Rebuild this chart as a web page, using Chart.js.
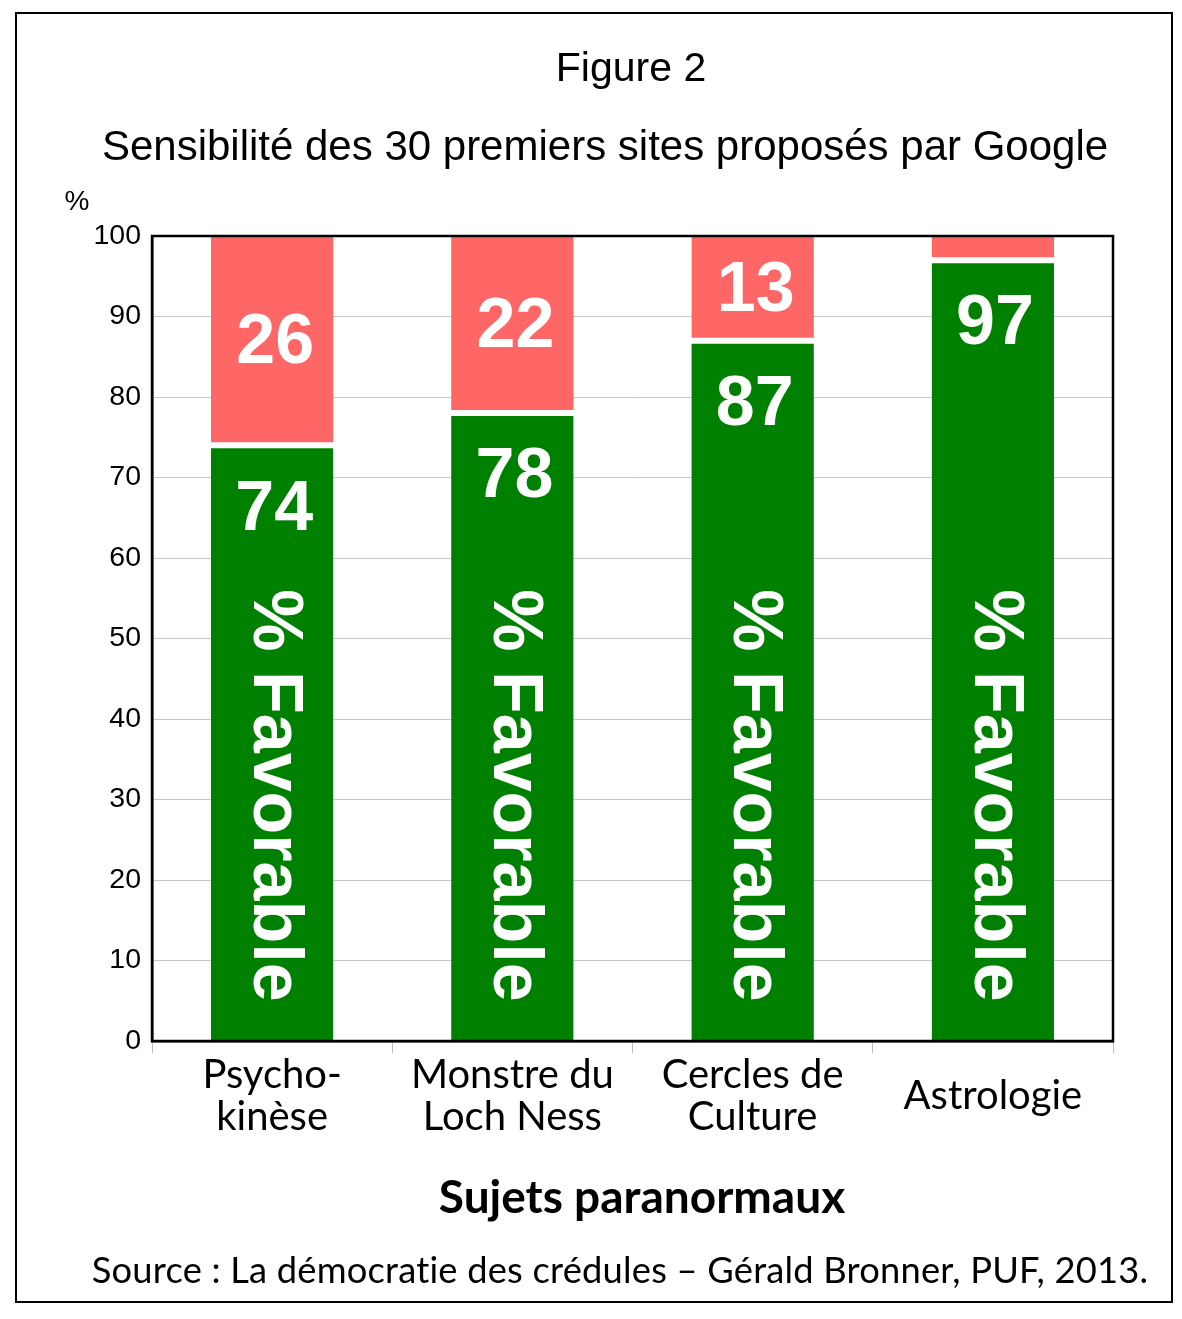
<!DOCTYPE html>
<html>
<head>
<meta charset="utf-8">
<script src="https://cdn.jsdelivr.net/npm/chart.js@4.4.1/dist/chart.umd.min.js"></script>
<style>
    body { margin: 0; background: #fff; }
    #wrap { position: relative; width: 1182px; height: 1319px; overflow: hidden; }
    #frame { position: absolute; left: 15px; top: 12px; width: 1154px; height: 1287px; border: 2px solid #000; }
    canvas { position: absolute; left: 0; top: 0; }
    .txt { position: absolute; white-space: nowrap; color: #000; transform: translateX(-50%); line-height: 1;
           font-variant-ligatures: none; font-feature-settings: "liga" 0, "clig" 0, "dlig" 0; }
    #fig { left: 631px; top: 44px; font: 41px "Liberation Sans", Arial, sans-serif; }
    #subtitle { left: 605px; top: 122px; font: 42px "Liberation Sans", Arial, sans-serif; }
    #unit { left: 77px; top: 185px; font: 28px "Liberation Sans", Arial, sans-serif; }
    #xtitle { left: 642px; top: 1168px; font: bold 46px Lato, "Open Sans", sans-serif; }
    #source { left: 620px; top: 1247px; font: 36.3px Lato, "Open Sans", sans-serif; letter-spacing: 0.2px; }
</style>
</head>
<body>
<div id="wrap">
    <div id="frame"></div>
    <canvas id="chart" width="1182" height="1319"></canvas>
    <div class="txt" id="fig">Figure 2</div>
    <div class="txt" id="subtitle">Sensibilité des 30 premiers sites proposés par Google</div>
    <div class="txt" id="unit">%</div>
    <div class="txt" id="xtitle">Sujets paranormaux</div>
    <div class="txt" id="source">Source : La démocratie des crédules – Gérald Bronner, PUF, 2013.</div>
</div>
<script>
// Sujets et pourcentages
const SUJETS = [['Psycho-', 'kinèse'], ['Monstre du', 'Loch Ness'], ['Cercles de', 'Culture'], 'Astrologie'];
const FAVORABLE = [74, 78, 87, 97];
const DEFAVORABLE = [26, 22, 13, 3];
const Y_MIN = 0;
const Y_MAX = 100;
const Y_STEP = 10;
const LABEL_VERTICAL = '% Favorable';

const VERT = '#008000';
const ROUGE = '#ff6666';

// Cadre noir autour de la zone de tracé
const plotBorder = {
    id: 'plotBorder',
    afterDraw(chart) {
        const { ctx, chartArea: a } = chart;
        ctx.save();
        ctx.strokeStyle = '#000';
        ctx.lineWidth = 2.5;
        ctx.strokeRect(a.left, a.top, a.right - a.left, a.bottom - a.top);
        ctx.restore();
    }
};

// Nombres et texte vertical dans les barres
const barLabels = {
    id: 'barLabels',
    afterDatasetsDraw(chart) {
        const ctx = chart.ctx;
        const yScale = chart.scales.y;
        ctx.save();
        ctx.fillStyle = '#fff';
        ctx.textAlign = 'center';
        ctx.textBaseline = 'middle';
        ctx.font = 'bold 70px "Liberation Sans", Arial, sans-serif';

        chart.getDatasetMeta(0).data.forEach((bar, i) => {
            ctx.fillText(String(FAVORABLE[i]), bar.x + 2, bar.y + 65);
            ctx.save();
            ctx.translate(bar.x + 1, yScale.getPixelForValue(30.5));
            ctx.rotate(Math.PI / 2);
            ctx.fillText(LABEL_VERTICAL, 0, 0);
            ctx.restore();
        });

        chart.getDatasetMeta(1).data.forEach((bar, i) => {
            if (DEFAVORABLE[i] < 5) return;
            ctx.fillText(String(DEFAVORABLE[i]), bar.x + 3, (bar.y + bar.base) / 2 + 3);
        });
        ctx.restore();
    }
};

new Chart(document.getElementById('chart').getContext('2d'), {
    type: 'bar',
    data: {
        labels: SUJETS,
        datasets: [{
            label: 'Favorable',
            data: FAVORABLE,
            backgroundColor: VERT,
            borderColor: '#fff',
            borderWidth: { top: 3, left: 0, right: 0, bottom: 0 },
            borderSkipped: false,
            barPercentage: 0.51,
            categoryPercentage: 1
        }, {
            label: 'Défavorable',
            data: DEFAVORABLE,
            backgroundColor: ROUGE,
            borderColor: '#fff',
            borderWidth: { top: 0, left: 0, right: 0, bottom: 3 },
            borderSkipped: false,
            barPercentage: 0.51,
            categoryPercentage: 1
        }]
    },
    options: {
        responsive: false,
        animation: false,
        devicePixelRatio: 1,
        layout: { padding: { top: 236, right: 69, bottom: 0, left: 0 } },
        plugins: {
            legend: { display: false },
            tooltip: { enabled: false }
        },
        scales: {
            x: {
                stacked: true,
                grid: { display: true, drawOnChartArea: false, drawTicks: true, tickLength: 12, color: '#bbb' },
                border: { display: true, color: '#000', width: 2.5 },
                ticks: {
                    color: '#000',
                    padding: 22,
                    crossAlign: 'center',
                    maxRotation: 0,
                    font: { family: 'Lato, "Open Sans", sans-serif', size: 40, lineHeight: 1.05 }
                },
                afterFit(scale) { scale.height = 278; }
            },
            y: {
                stacked: true,
                min: Y_MIN,
                max: Y_MAX,
                grid: { color: '#c8c8c8', lineWidth: 1, drawTicks: false },
                border: { display: true, color: '#000', width: 2.5 },
                ticks: {
                    stepSize: Y_STEP,
                    color: '#000',
                    padding: 11,
                    font: { family: '"Liberation Sans", Arial, sans-serif', size: 28.5 }
                },
                afterFit(scale) { scale.width = 152; }
            }
        }
    },
    plugins: [plotBorder, barLabels]
});
</script>
</body>
</html>
